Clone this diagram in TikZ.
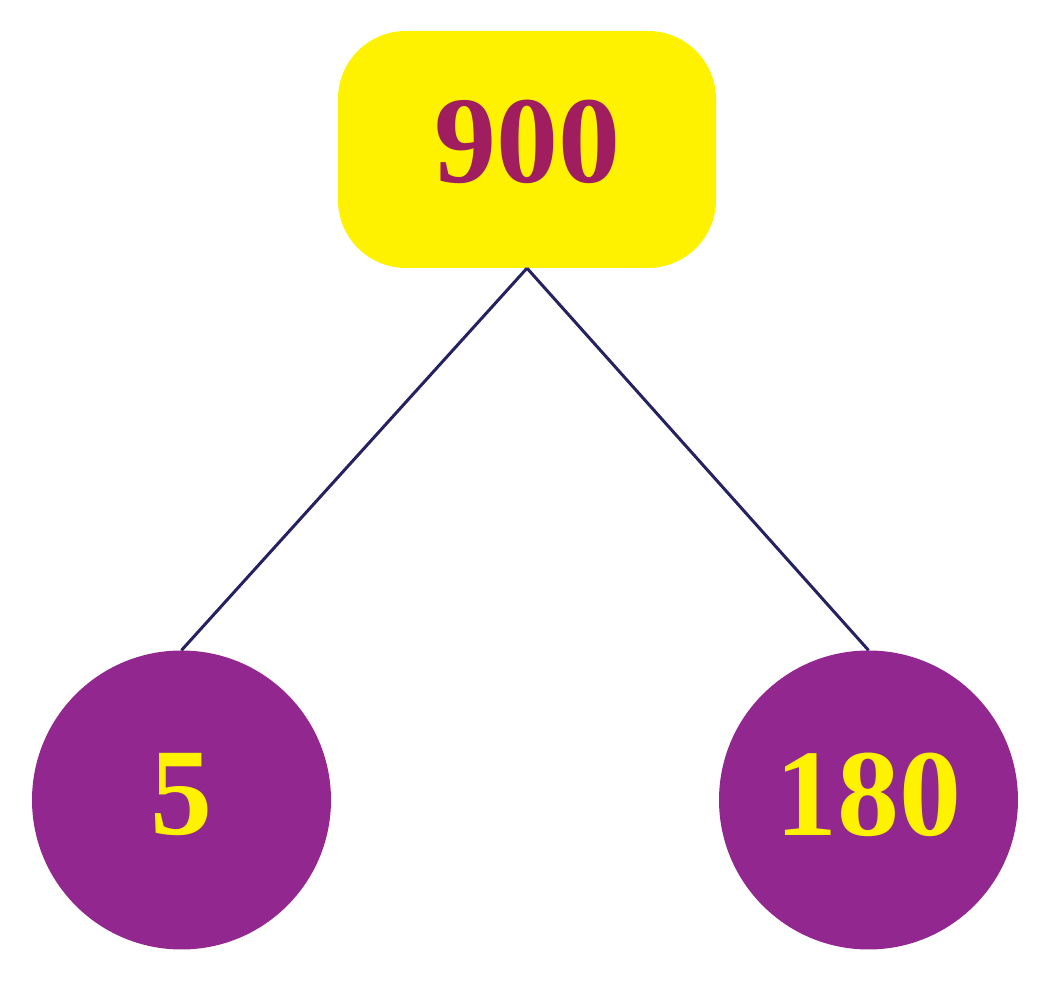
\documentclass[tikz,border=0pt]{standalone}
\usepackage{fontspec}
\setmainfont{Liberation Serif}
\definecolor{boxyellow}{HTML}{FFF200}
\definecolor{numred}{HTML}{A01E5F}
\definecolor{circpurple}{HTML}{92278F}
\definecolor{linenavy}{HTML}{262262}
\begin{document}
\begin{tikzpicture}
  \tikzset{
    topnode/.style={
      rectangle,
      rounded corners=68pt,
      fill=boxyellow,
      minimum width=378pt,
      minimum height=237pt,
      text=numred,
      text depth=16pt,
      font=\bfseries\fontsize{124}{124}\selectfont,
      text centered
    },
    factornode/.style={
      circle,
      fill=circpurple,
      minimum size=299pt,
      text=boxyellow,
      text depth=12pt,
      font=\bfseries\fontsize{124}{124}\selectfont,
      text centered
    }
  }
  \useasboundingbox (0pt, 0pt) rectangle (1045pt, 984pt);

  \node[topnode] (N900) at (527pt, 834.5pt) {900};
  \node[factornode] (N5) at (181.5pt, 184pt) {5};
  \node[factornode] (N180) at (868.5pt, 184pt) {180};

  \draw[line width=3pt, color=linenavy] (N900.south) -- (N5.north);
  \draw[line width=3pt, color=linenavy] (N900.south) -- (N180.north);
\end{tikzpicture}
\end{document}
